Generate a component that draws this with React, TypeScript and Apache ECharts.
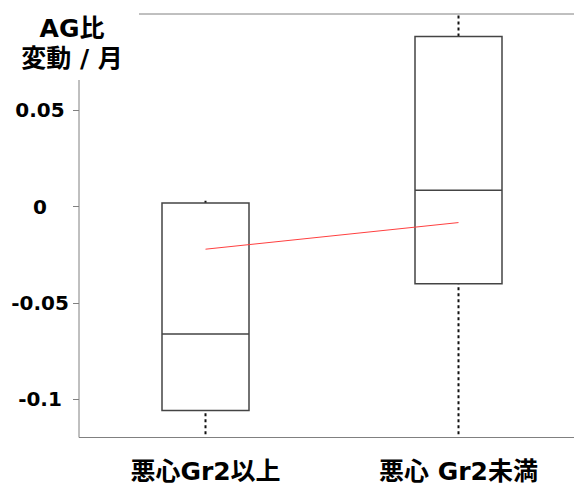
import React, { useEffect, useRef } from "react";
import * as echarts from "echarts";

const categories = ["悪心Gr2以上", "悪心 Gr2未満"];
const whiskerLow = [-0.118, -0.118];
const q1 = [-0.1057, -0.040];
const median = [-0.0661, 0.0085];
const q3 = [0.0018, 0.0881];
const whiskerHigh = [0.003, 0.1];
const means = [-0.0221, -0.0083];
const majorTicks = [-0.1, -0.05, 0, 0.05];
const minorTicks = [-0.075, -0.025, 0.025];
const yTitle = "AG比\n変動 / 月";

export default function App() {
  const ref = useRef<HTMLDivElement>(null);
  useEffect(() => {
    document.body.style.margin = "0";
    if (!ref.current) return;
    const chart = echarts.init(ref.current, null, { renderer: "svg" });
    const yCommon = {
      type: "value" as const,
      min: -0.1197,
      max: 0.0998,
      splitLine: { show: false },
      axisLine: { show: false },
    };
    chart.setOption({
      animation: false,
      backgroundColor: "#fff",
      grid: {
        left: 79,
        top: 14,
        width: 506,
        bottom: 47.5,
        show: true,
        borderColor: "#808080",
        borderWidth: 1,
        backgroundColor: "transparent",
        outerBoundsMode: "none",
        containLabel: false,
      },
      xAxis: {
        type: "category",
        data: categories,
        axisLine: { show: false },
        axisTick: { show: false },
        axisLabel: {
          margin: 21,
          fontSize: 25,
          fontWeight: "bold",
          color: "#000",
          fontFamily: "'DejaVu Sans', 'Noto Sans CJK JP'",
          overflow: "none",
          width: 250,
        },
      },
      yAxis: [
        {
          ...yCommon,
          axisTick: {
            show: true,
            customValues: majorTicks,
            length: 6,
            lineStyle: { color: "#808080" },
          },
          axisLabel: {
            customValues: majorTicks,
            margin: 39,
            align: "center",
            verticalAlign: "middle",
            padding: [10, 0, 0, 0],
            fontSize: 20,
            fontWeight: "bold",
            color: "#000",
            fontFamily: "DejaVu Sans",
            formatter: (v: number) => String(v),
          },
        },
        {
          ...yCommon,
          axisTick: {
            show: true,
            customValues: minorTicks,
            length: 3,
            lineStyle: { color: "#808080" },
          },
          axisLabel: { show: false },
        },
      ],
      graphic: [
        {
          type: "rect",
          left: 0,
          top: 0,
          z: 100,
          shape: { width: 139, height: 80 },
          style: { fill: "#fff" },
        },
        {
          type: "text",
          x: 72,
          y: 13,
          z: 101,
          style: {
            text: yTitle,
            align: "center",
            verticalAlign: "top",
            font: "bold 25px 'DejaVu Sans', 'Noto Sans CJK JP'",
            lineHeight: 30,
            fill: "#000",
          },
        },
      ],
      series: [
        {
          type: "custom",
          clip: true,
          encode: { x: 0, y: [1, 2, 3, 4] },
          data: categories.map((_, i) => [i, whiskerLow[i], q1[i], q3[i], whiskerHigh[i]]),
          renderItem: (params: any, api: any) => {
            const x = api.value(0);
            const lo = api.coord([x, api.value(1)]);
            const b = api.coord([x, api.value(2)]);
            const t = api.coord([x, api.value(3)]);
            const hi = api.coord([x, api.value(4)]);
            const style = { stroke: "#111", lineWidth: 2, lineDash: [3, 3] };
            return {
              type: "group",
              children: [
                { type: "line", shape: { x1: lo[0], y1: lo[1], x2: b[0], y2: b[1] }, style },
                { type: "line", shape: { x1: t[0], y1: t[1], x2: hi[0], y2: hi[1] }, style },
              ],
            };
          },
        },
        {
          type: "boxplot",
          boxWidth: [87, 87],
          data: categories.map((_, i) => [q1[i], q1[i], median[i], q3[i], q3[i]]),
          itemStyle: {
            color: "rgba(0,0,0,0)",
            borderColor: "#444",
            borderWidth: 1.5,
          },
        },
        {
          type: "line",
          data: means,
          symbol: "none",
          z: 5,
          lineStyle: { color: "#ff4040", width: 1 },
        },
      ],
    });
    return () => chart.dispose();
  }, []);
  return <div ref={ref} style={{ width: 574, height: 485 }} />;
}
